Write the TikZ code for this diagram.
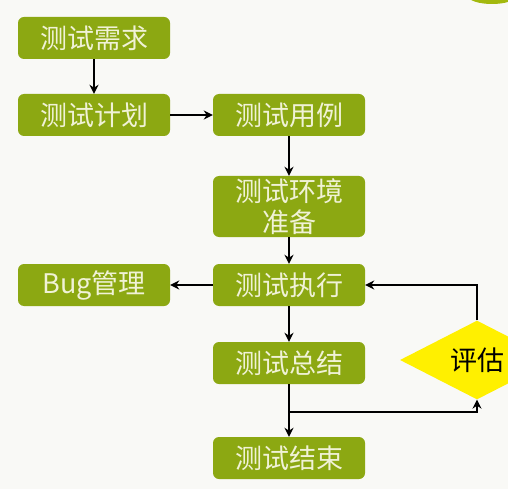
\documentclass[tikz,border=0pt]{standalone}
\usepackage{fontspec}
\setmainfont{Noto Sans CJK SC}
\usetikzlibrary{arrows.meta,shapes.geometric}
\definecolor{boxgreen}{RGB}{140,168,18}
\definecolor{boxtext}{RGB}{240,242,214}
\definecolor{bgcol}{RGB}{249,249,246}
\definecolor{evalyellow}{RGB}{255,240,0}
\tikzset{
  stepbox/.style={fill=boxgreen, rounded corners=6pt, minimum width=152pt, minimum height=42pt,
    inner sep=0pt, text=boxtext, font=\fontsize{27}{30}\selectfont, align=center},
  flow/.style={draw=black, line width=2.8pt, -{Stealth[length=9pt,width=9pt]}},
}
\begin{document}
\begin{tikzpicture}[x=1pt,y=-1pt]
\useasboundingbox (0,0) rectangle (508,489);
\clip (0,0) rectangle (508,489);
\fill[bgcol] (0,0) rectangle (508,489);
\fill[boxgreen!80!yellow] (492,-4) ellipse (24pt and 8pt);
\node[stepbox] (req) at (94,38) {测试需求};
\node[stepbox] (plan) at (94,115) {测试计划};
\node[stepbox] (case) at (289,115) {测试用例};
\node[stepbox, minimum height=61pt, font=\fontsize{27}{31}\selectfont] (env) at (289,206.5) {测试环境\\准备};
\node[stepbox] (exec) at (289,285) {测试执行};
\node[stepbox] (bug) at (94,285) {Bug管理};
\node[stepbox] (sum) at (289,363) {测试总结};
\node[stepbox] (fin) at (289,458) {测试结束};
\node[diamond, fill=evalyellow, minimum width=154pt, minimum height=48pt, inner sep=0pt,
  font=\fontsize{27}{30}\selectfont] (eval) at (477,360) {评估};
\coordinate (branch) at (289,412);
\draw[flow] (req) -- (plan);
\draw[flow] (plan) -- (case);
\draw[flow] (case) -- (env);
\draw[flow] (env) -- (exec);
\draw[flow] (exec) -- (bug);
\draw[flow] (exec) -- (sum);
\draw[flow] (sum) -- (fin);
\draw[flow] (branch) -| (eval.south);
\draw[flow] (eval.north) |- (exec.east);
\end{tikzpicture}
\end{document}
